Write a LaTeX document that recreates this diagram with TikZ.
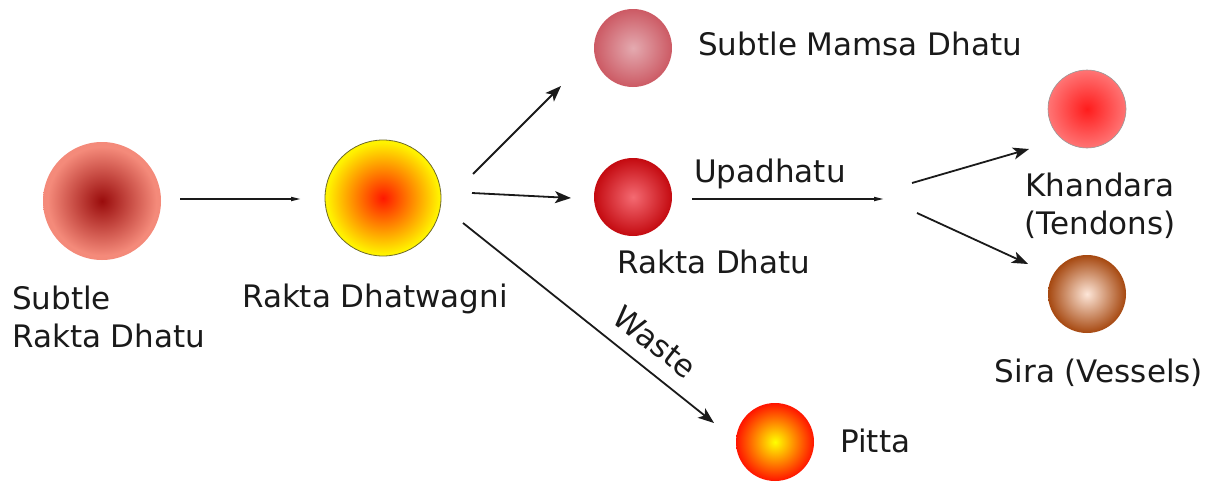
\documentclass[tikz,border=0pt]{standalone}
\usepackage{fontspec}
\setmainfont{DejaVu Sans}
\usetikzlibrary{arrows.meta}

% ball colours: centre / rim
\definecolor{sraktaIn}{HTML}{9A0C0C}
\definecolor{sraktaOut}{HTML}{F48A7A}
\definecolor{agniIn}{HTML}{FF1800}
\definecolor{agniOut}{HTML}{FFF200}
\definecolor{mamsaIn}{HTML}{E4AAB0}
\definecolor{mamsaOut}{HTML}{CC5A64}
\definecolor{raktaIn}{HTML}{F46A72}
\definecolor{raktaOut}{HTML}{C40A10}
\definecolor{khandIn}{HTML}{FF1C1C}
\definecolor{khandOut}{HTML}{FF7474}
\definecolor{siraIn}{HTML}{FDE6D8}
\definecolor{siraOut}{HTML}{A64810}
\definecolor{pittaIn}{HTML}{FFFF00}
\definecolor{pittaOut}{HTML}{FF1400}
\definecolor{ink}{HTML}{1A1A1A}
\definecolor{agniRim}{HTML}{6E6A2A}

% the circle's rim sits at 25bp of each shading
\pgfdeclareradialshading{srakta}{\pgfpoint{0bp}{0bp}}{color(0bp)=(sraktaIn); color(23bp)=(sraktaOut); color(50bp)=(sraktaOut)}
\pgfdeclareradialshading{agni}{\pgfpoint{0bp}{0bp}}{color(0bp)=(agniIn); color(24bp)=(agniOut); color(50bp)=(agniOut)}
\pgfdeclareradialshading{mamsa}{\pgfpoint{0bp}{0bp}}{color(0bp)=(mamsaIn); color(25bp)=(mamsaOut); color(50bp)=(mamsaOut)}
\pgfdeclareradialshading{rakta}{\pgfpoint{0bp}{0bp}}{color(0bp)=(raktaIn); color(25bp)=(raktaOut); color(50bp)=(raktaOut)}
\pgfdeclareradialshading{khand}{\pgfpoint{0bp}{0bp}}{color(0bp)=(khandIn); color(25bp)=(khandOut); color(50bp)=(khandOut)}
\pgfdeclareradialshading{sira}{\pgfpoint{0bp}{0bp}}{color(0bp)=(siraIn); color(25bp)=(siraOut); color(50bp)=(siraOut)}
\pgfdeclareradialshading{pitta}{\pgfpoint{0bp}{0bp}}{color(0bp)=(pittaIn); color(25bp)=(pittaOut); color(50bp)=(pittaOut)}

\tikzset{
  blob/.style={circle, minimum size=#1, inner sep=0pt},
  lbl/.style={font=\fontsize{31}{38}\selectfont, inner sep=0pt, text=ink},
  arr/.style={line width=1.8pt, ink, -{Stealth[length=16pt,width=12pt,inset=4pt]}},
  flatend/.style={line width=1.8pt, ink, -{Stealth[length=10pt,width=4pt,inset=0pt]}},
}

\begin{document}
\begin{tikzpicture}[x=1pt,y=-1pt]
\fill[white] (0,0) rectangle (1210,482);
\useasboundingbox (0,0) rectangle (1210,482);

% balls
\node[blob=118pt, shading=srakta] (srakta) at (102,201) {};
\node[blob=116pt, shading=agni, draw=agniRim, line width=0.8pt] (agni) at (383,198) {};
\node[blob=78pt, shading=mamsa] (mamsa) at (633,48) {};
\node[blob=78pt, shading=rakta] (rakta) at (633,197) {};
\node[blob=78pt, shading=khand, draw=black!40, line width=0.6pt] (khand) at (1087,109) {};
\node[blob=78pt, shading=sira] (sira) at (1087,294) {};
\node[blob=78pt, shading=pitta] (pitta) at (775,442) {};

% labels
\node[lbl, anchor=north west, align=left] (lsrakta) at (12,286) {Subtle\\Rakta Dhatu};
\node[lbl, anchor=base] (lagni) at (375,307) {Rakta Dhatwagni};
\node[lbl, anchor=base west] (lmamsa) at (698,55) {Subtle Mamsa Dhatu};
\node[lbl, anchor=base west] (lupa) at (694,182) {Upadhatu};
\node[lbl, anchor=base west] (lrakta) at (617,273) {Rakta Dhatu};
\node[lbl, anchor=north, align=center] (lkhand) at (1100,173) {Khandara\\(Tendons)};
\node[lbl, anchor=base] (lsira) at (1099,382) {Sira (Vessels)};
\node[lbl, anchor=base west] (lpitta) at (840,452) {Pitta};
\node[lbl, rotate=-38] (lwaste) at (655,342) {Waste};

% connector ends
\coordinate (a1s) at (180,199);
\coordinate (a1e) at (301,199);
\coordinate (a2s) at (473,174);
\coordinate (a2e) at (561,86);
\coordinate (a3s) at (472,193);
\coordinate (a3e) at (571,198);
\coordinate (a4s) at (463,223);
\coordinate (a4e) at (714,423);
\coordinate (a5s) at (692,199);
\coordinate (a5e) at (884,199);
\coordinate (a6s) at (912,183);
\coordinate (a6e) at (1029,149);
\coordinate (a7s) at (917,213);
\coordinate (a7e) at (1028,264);

% connectors
\draw[flatend] (a1s) -- (a1e);
\draw[arr] (a2s) -- (a2e);
\draw[arr] (a3s) -- (a3e);
\draw[arr] (a4s) -- (a4e);
\draw[flatend] (a5s) -- (a5e);
\draw[arr] (a6s) -- (a6e);
\draw[arr] (a7s) -- (a7e);
\end{tikzpicture}
\end{document}
